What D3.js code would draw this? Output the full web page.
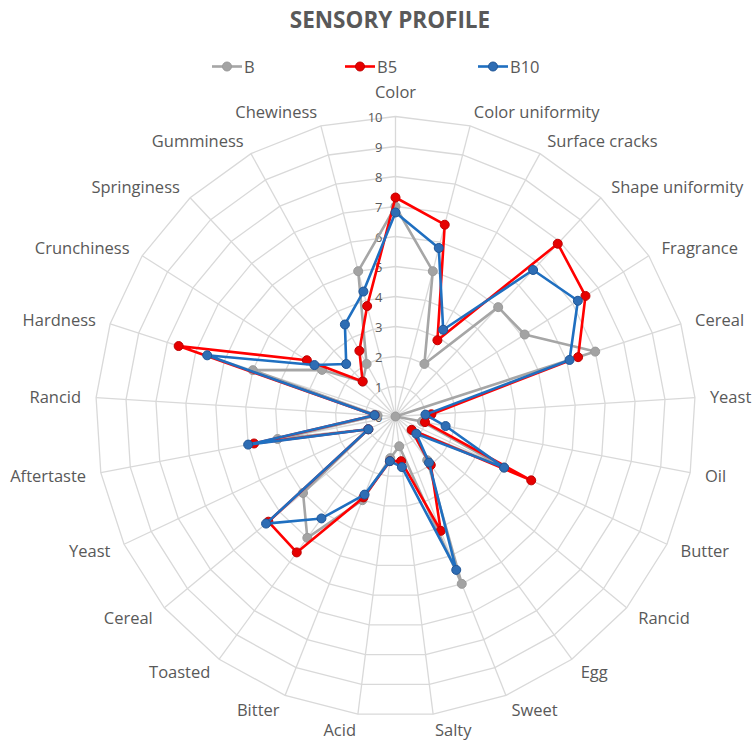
<!DOCTYPE html>
<html>
<head>
<meta charset="utf-8">
<script src="https://cdn.jsdelivr.net/npm/d3@7"></script>
<style>
  body { margin: 0; background: #fff; }
  svg { display: block; font-family: "Open Sans", sans-serif; }
</style>
</head>
<body>
<svg></svg>
<script>
// sensory attributes, clockwise from the top
var categories = ["Color", "Color uniformity", "Surface cracks", "Shape uniformity", "Fragrance",
    "Cereal", "Yeast", "Oil", "Butter", "Rancid", "Egg", "Sweet", "Salty", "Acid", "Bitter",
    "Toasted", "Cereal", "Yeast", "Aftertaste", "Rancid", "Hardness", "Crunchiness",
    "Springiness", "Gumminess", "Chewiness"];

// scores
var valuesB   = [7.0, 5.0, 2.0, 5.0, 5.1, 7.0, 0.0, 0.9, 4.0, 0.7, 1.8, 6.0, 1.0, 1.4, 3.0, 5.0, 4.0, 1.0, 4.0, 0.6, 5.0, 2.9, 1.6, 2.0, 5.0];
var valuesB5  = [7.3, 6.6, 2.9, 7.9, 7.5, 6.4, 1.2, 1.0, 5.0, 0.7, 2.0, 4.1, 1.5, 1.5, 2.9, 5.6, 5.5, 1.0, 4.8, 0.7, 7.6, 3.5, 1.6, 2.5, 3.8];
var valuesB10 = [6.8, 5.8, 3.3, 6.7, 7.2, 6.1, 1.0, 1.7, 4.0, 0.9, 1.9, 5.5, 1.7, 1.5, 2.8, 4.2, 5.6, 1.0, 5.0, 0.7, 6.6, 3.2, 2.4, 3.5, 4.3];

var seriesNames = ["B", "B5", "B10"];
var tickValues = [0, 1, 2, 3, 4, 5, 6, 7, 8, 9, 10];

var series = [
    { name: seriesNames[0], values: valuesB,   line: "#a6a6a6", fill: "#a3a3a3", stroke: "#9a9a9a" },
    { name: seriesNames[1], values: valuesB5,  line: "#ff0000", fill: "#e60000", stroke: "#c00000" },
    { name: seriesNames[2], values: valuesB10, line: "#1f6fc0", fill: "#2e6db4", stroke: "#1f5596" }
];

var svgWidth = 756, svgHeight = 744;
var cx = 395.5, cy = 416.5, radius = 300;

var svg = d3.select("svg")
    .attr("width", svgWidth)
    .attr("height", svgHeight);

// radial value scale and angle scale
var r = d3.scaleLinear().domain([0, 10]).range([0, radius]);
var angle = d3.scaleLinear().domain([0, categories.length]).range([0, 2 * Math.PI]);

function px(i, v) { return cx + Math.sin(angle(i)) * r(v); }
function py(i, v) { return cy - Math.cos(angle(i)) * r(v); }

// title
svg.append("text")
    .attr("x", 390)
    .attr("y", 19)
    .attr("text-anchor", "middle")
    .attr("dominant-baseline", "central")
    .attr("font-size", 22.5)
    .attr("font-weight", "bold")
    .attr("fill", "#595959")
    .text("SENSORY PROFILE");

var g = svg.append("g");

// grid rings
var idx = d3.range(categories.length);
g.selectAll(".ring")
    .data(tickValues.slice(1))
    .enter().append("polygon")
    .attr("fill", "none")
    .attr("stroke", "#d9d9d9")
    .attr("stroke-width", 1.3)
    .attr("points", function(t) {
        return idx.map(function(i) { return px(i, t) + "," + py(i, t); }).join(" ");
    });

// spokes
g.selectAll(".spoke")
    .data(idx)
    .enter().append("line")
    .attr("x1", cx).attr("y1", cy)
    .attr("x2", function(i) { return px(i, 10); })
    .attr("y2", function(i) { return py(i, 10); })
    .attr("stroke", "#d9d9d9")
    .attr("stroke-width", 1.3);

// tick labels along the top axis
g.selectAll(".tick")
    .data(tickValues)
    .enter().append("text")
    .attr("x", cx - 13)
    .attr("y", function(t) { return cy - r(t); })
    .attr("text-anchor", "end")
    .attr("dominant-baseline", "central")
    .attr("font-size", 13)
    .attr("fill", "#595959")
    .text(function(t) { return t; });

// category labels
g.selectAll(".cat")
    .data(categories)
    .enter().append("text")
    .attr("x", function(d, i) { return px(i, 10.5); })
    .attr("y", function(d, i) { return py(i, 10.5) + (i === 0 ? -10 : 0); })
    .attr("text-anchor", function(d, i) {
        var s = Math.sin(angle(i));
        return Math.abs(s) < 0.01 ? "middle" : (s > 0 ? "start" : "end");
    })
    .attr("dominant-baseline", "central")
    .attr("font-size", 16.5)
    .attr("fill", "#595959")
    .text(function(d) { return d; });

// series lines and markers
var radarLine = d3.lineRadial()
    .angle(function(v, i) { return angle(i); })
    .radius(function(v) { return r(v); })
    .curve(d3.curveLinearClosed);

series.forEach(function(s) {
    var sg = g.append("g").attr("transform", "translate(" + cx + "," + cy + ")");
    sg.append("path")
        .datum(s.values)
        .attr("fill", "none")
        .attr("stroke", s.line)
        .attr("stroke-width", 2.6)
        .attr("stroke-linejoin", "round")
        .attr("d", radarLine);
    sg.selectAll("circle")
        .data(s.values)
        .enter().append("circle")
        .attr("cx", function(v, i) { return Math.sin(angle(i)) * r(v); })
        .attr("cy", function(v, i) { return -Math.cos(angle(i)) * r(v); })
        .attr("r", 4.5)
        .attr("fill", s.fill)
        .attr("stroke", s.stroke)
        .attr("stroke-width", 1);
});

// legend
var legend = svg.append("g").attr("transform", "translate(212,66.5)");
var item = legend.selectAll("g")
    .data(series)
    .enter().append("g")
    .attr("transform", function(d, i) { return "translate(" + (i * 133) + ",0)"; });
item.append("line")
    .attr("x1", 0).attr("x2", 30)
    .attr("stroke", function(d) { return d.line; })
    .attr("stroke-width", 2.6);
item.append("circle")
    .attr("cx", 15).attr("r", 4.5)
    .attr("fill", function(d) { return d.fill; })
    .attr("stroke", function(d) { return d.stroke; });
item.append("text")
    .attr("x", 32)
    .attr("dominant-baseline", "central")
    .attr("font-size", 16.5)
    .attr("fill", "#595959")
    .text(function(d) { return d.name; });
</script>
</body>
</html>
